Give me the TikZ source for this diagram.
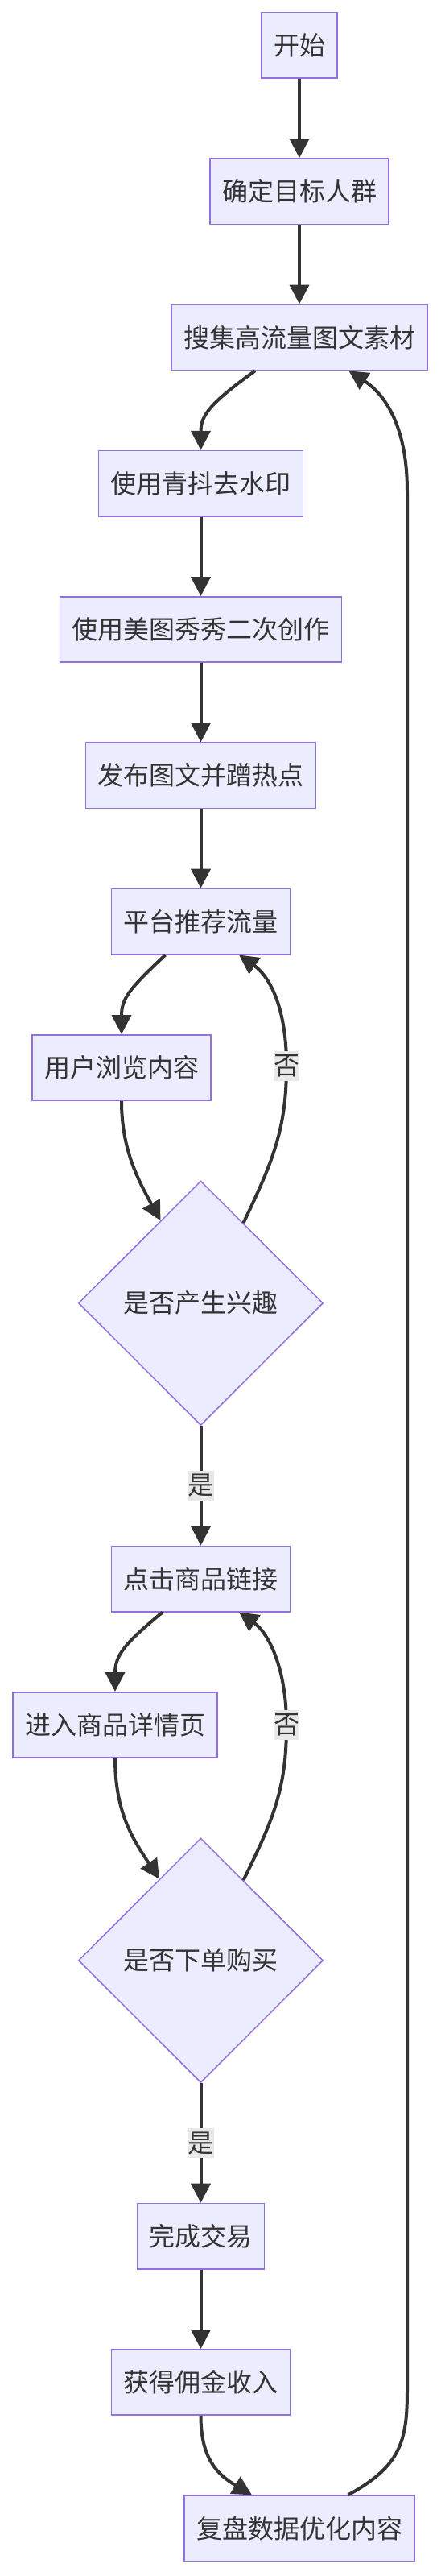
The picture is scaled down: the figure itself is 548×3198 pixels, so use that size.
\documentclass[tikz,border=0pt]{standalone}
\usepackage{fontspec}
\setmainfont{Noto Sans CJK SC}
\usetikzlibrary{arrows.meta,shapes.geometric}
\definecolor{nodefill}{HTML}{ECECFF}
\definecolor{nodeline}{HTML}{9370DB}
\definecolor{edgeline}{HTML}{333333}
\definecolor{labelfill}{HTML}{E8E8E8}
\definecolor{textgray}{HTML}{333333}
\tikzstyle{flowbox} = [draw=nodeline, fill=nodefill, line width=1.5pt, text=textgray,
    font=\fontsize{32}{38}\selectfont, inner xsep=15pt, inner ysep=0pt, minimum height=81.3pt]
\tikzstyle{decision} = [diamond, aspect=1, draw=nodeline, fill=nodefill, line width=1.5pt,
    text=textgray, font=\fontsize{32}{38}\selectfont, inner sep=0pt,
    minimum width=304pt, minimum height=303.4pt]
\tikzstyle{edgelabel} = [fill=labelfill, text=textgray, font=\fontsize{32}{38}\selectfont,
    inner xsep=0pt, inner ysep=0pt, minimum height=37pt]
\tikzstyle{flow} = [draw=edgeline, line width=4pt, -{Triangle[length=24pt, width=24pt]}]

\begin{document}
\begin{tikzpicture}[x=1pt, y=-1pt]
    \useasboundingbox (0,0) rectangle (548,3198);

    \node [flowbox] (start)    at (372,56.3)    {开始};
    \node [flowbox] (target)   at (372,237.6)   {确定目标人群};
    \node [flowbox] (collect)  at (372,418.9)   {搜集高流量图文素材};
    \node [flowbox] (unmark)   at (249.5,600.2) {使用青抖去水印};
    \node [flowbox] (remake)   at (249.5,781.5) {使用美图秀秀二次创作};
    \node [flowbox] (publish)  at (249.5,962.8) {发布图文并蹭热点};
    \node [flowbox] (push)     at (249.5,1144.1) {平台推荐流量};
    \node [flowbox] (browse)   at (151,1325.4)  {用户浏览内容};
    \node [decision] (interest) at (249.5,1617.8) {是否产生兴趣};
    \node [flowbox] (click)    at (249.5,1960.1) {点击商品链接};
    \node [flowbox] (detail)   at (143,2141.4)  {进入商品详情页};
    \node [decision] (buy)     at (249.5,2433.8) {是否下单购买};
    \node [flowbox] (deal)     at (249.5,2776.1) {完成交易};
    \node [flowbox] (earn)     at (249.5,2957.4) {获得佣金收入};
    \node [flowbox] (review)   at (372,3138.7)  {复盘数据优化内容};

    \draw [flow] (start) -- (target);
    \draw [flow] (target) -- (collect);
    \draw [flow] ([xshift=-55pt]collect.south) .. controls (262,500) and (249.5,515) .. (unmark.north);
    \draw [flow] (unmark) -- (remake);
    \draw [flow] (remake) -- (publish);
    \draw [flow] (publish) -- (push);
    \draw [flow] ([xshift=-44pt]push.south) .. controls (160,1228) and (151,1240) .. (browse.north);
    \draw [flow] (browse.south) .. controls (151,1425) and (170,1462) .. (interest.116);
    \draw [flow] (interest.62) .. controls (340,1440) and (356,1400) .. (356,1323.3)
        node [edgelabel] {否}
        .. controls (356,1245) and (332,1210) .. ([xshift=47.5pt]push.south);
    \draw [flow] (interest) -- node [edgelabel] {是} (click);
    \draw [flow] ([xshift=-47.5pt]click.south) .. controls (155,2040) and (143,2055) .. (detail.north);
    \draw [flow] (detail.south) .. controls (143,2250) and (165,2283) .. (buy.117);
    \draw [flow] (buy.62) .. controls (340,2258) and (356,2220) .. (356,2141.6)
        node [edgelabel] {否}
        .. controls (356,2068) and (332,2026) .. ([xshift=47.5pt]click.south);
    \draw [flow] (buy) -- node [edgelabel] {是} (deal);
    \draw [flow] (deal) -- (earn);
    \draw [flow] (earn.south) .. controls (249.5,3052) and (270,3072) .. ([xshift=-59pt]review.north);
    \draw [flow] ([xshift=60.4pt]review.north) .. controls (498,3062) and (506,3030) .. (506,2968)
        -- (506,610) .. controls (506,535) and (482,492) .. ([xshift=61.4pt]collect.south);
\end{tikzpicture}
\end{document}
